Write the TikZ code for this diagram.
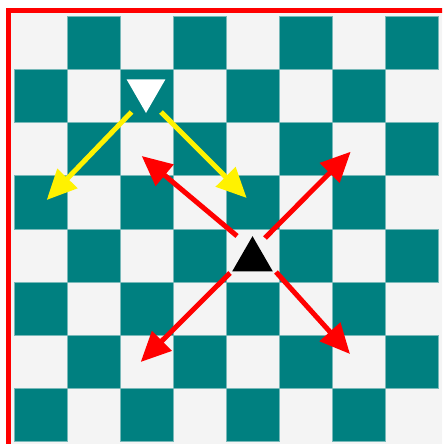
\documentclass[tikz,border=0pt]{standalone}
\usepackage{xcolor}
\usepackage{tikz}
\usetikzlibrary{shapes.geometric, arrows.meta, positioning, calc}

\definecolor{boardteal}{RGB}{0,128,128}
\definecolor{boardlight}{RGB}{244,244,244}
\definecolor{boardedge}{RGB}{120,185,185}

\begin{document}
\begin{tikzpicture}[x=1pt, y=-1pt,
    move/.style={line width=5pt, -{Triangle[length=30pt, width=27pt]}},
    piece/.style={regular polygon, regular polygon sides=3, inner sep=0pt, outer sep=0pt}]
\useasboundingbox (0,0) rectangle (442,444);
\clip (0,0) rectangle (442,444);

% Frame
\draw[red, line width=5pt, fill=boardlight] (8.5,10.5) rectangle (446,446);

% Board
\foreach \r in {0,...,7} {
  \foreach \c in {0,...,7} {
    \pgfmathparse{int(mod(\r+\c,2))}
    \ifnum\pgfmathresult=1
      \draw[fill=boardteal, draw=boardedge, line width=0.8pt]
        ({14+53.1*\c},{16.5+53.1*\r}) rectangle ++(53.1,53.1);
    \fi
  }
}

% Pieces
\node[piece, fill=white, minimum size=45pt, shape border rotate=180] (white) at (146,90.5) {};
\node[piece, fill=black, minimum size=47pt] (black) at (252.5,259.7) {};

% Moves of the white piece
\coordinate (wl) at ($(white)+(-14.5,21.5)$);
\coordinate (wr) at ($(white)+(15,21.5)$);
\coordinate (wlend) at (46.7,200);
\coordinate (wrend) at (246.7,198);
\draw[move, yellow] (wl) -- (wlend);
\draw[move, yellow] (wr) -- (wrend);

% Moves of the black piece
\coordinate (bul) at ($(black)+(-15.5,-23.7)$);
\coordinate (bur) at ($(black)+(12.5,-21.7)$);
\coordinate (bdl) at ($(black)+(-22.5,13.3)$);
\coordinate (bdr) at ($(black)+(23.5,12.3)$);
\coordinate (bulend) at (141.7,156);
\coordinate (burend) at (350.7,151.7);
\coordinate (bdlend) at (140.7,362);
\coordinate (bdrend) at (350,354);
\draw[move, red] (bul) -- (bulend);
\draw[move, red] (bur) -- (burend);
\draw[move, red] (bdl) -- (bdlend);
\draw[move, red] (bdr) -- (bdrend);
\end{tikzpicture}
\end{document}
